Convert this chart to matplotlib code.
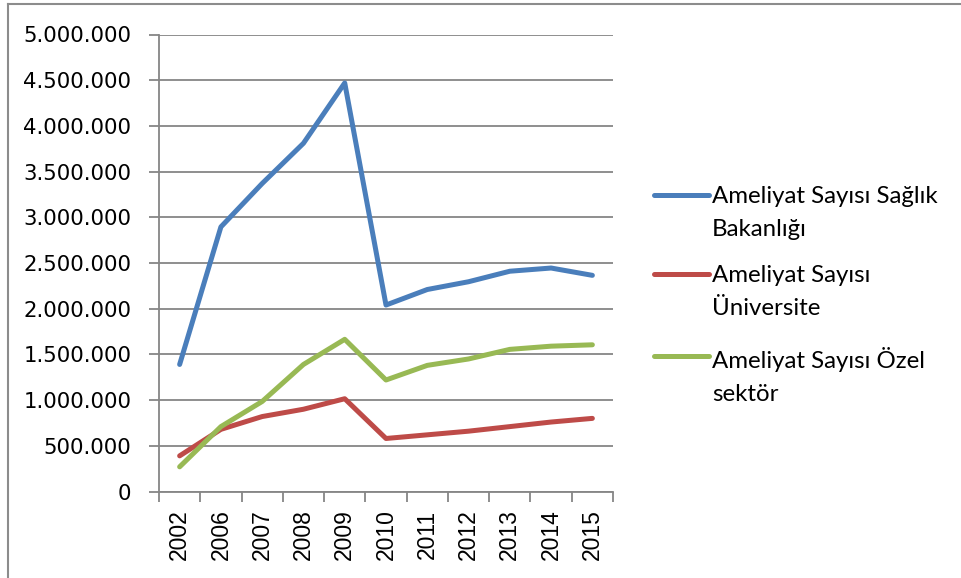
import matplotlib
matplotlib.use("Agg")
import matplotlib.pyplot as plt
from matplotlib.lines import Line2D
from matplotlib.ticker import FuncFormatter, MultipleLocator
import numpy as np

# data
years = ["2002", "2006", "2007", "2008", "2009", "2010", "2011", "2012", "2013", "2014", "2015"]
saglik = [1390000, 2895000, 3370000, 3810000, 4470000, 2040000, 2210000, 2295000, 2410000, 2445000, 2365000]
universite = [390000, 680000, 820000, 900000, 1015000, 580000, 620000, 660000, 710000, 760000, 800000]
ozel = [270000, 710000, 985000, 1390000, 1665000, 1220000, 1380000, 1450000, 1555000, 1590000, 1605000]

series = [
    (saglik, "#4A7EBB", "Ameliyat Sayısı Sağlık\nBakanlığı"),
    (universite, "#BE4B48", "Ameliyat Sayısı\nÜniversite"),
    (ozel, "#98B954", "Ameliyat Sayısı Özel\nsektör"),
]

grid_col = "#868686"

fig = plt.figure(figsize=(9.61, 5.78), dpi=100)
W, H = 961, 578
ax = fig.add_axes([159 / W, 1 - 491.5 / H, 454 / W, 457 / H])

x = np.arange(len(years))
for vals, col, lab in series:
    ax.plot(x, vals, color=col, lw=3.6, solid_capstyle="round", solid_joinstyle="round", zorder=3)

ax.set_xlim(-0.5, len(years) - 0.5)
ax.set_ylim(0, 5000000)
ax.yaxis.set_major_locator(MultipleLocator(500000))
ax.yaxis.set_major_formatter(FuncFormatter(lambda v, p: f"{int(v):,}".replace(",", ".")))
ax.grid(axis="y", color=grid_col, lw=1.3, zorder=1)

# category boundaries get tick marks, labels sit in between
ax.set_xticks(np.arange(-0.5, len(years), 1.0))
ax.set_xticklabels([])
ax.set_xticks(x, minor=True)
ax.set_xticklabels(years, minor=True, rotation=90, fontsize=16.5, family="Liberation Sans")
ax.tick_params(axis="x", which="major", length=7, width=1.3, color=grid_col, direction="out")
ax.tick_params(axis="x", which="minor", length=0, pad=13)
ax.tick_params(axis="y", length=7, width=1.3, color=grid_col, labelsize=15.3, pad=13)

for s in ["top", "right"]:
    ax.spines[s].set_visible(False)
for s in ["left", "bottom"]:
    ax.spines[s].set_color(grid_col)
    ax.spines[s].set_linewidth(1.3)

# legend drawn by hand: handle lines up with the first text line
leg_x0, leg_x1, txt_x = 654 / W, 709 / W, 712 / W
tops = [195, 274, 356]
for (vals, col, lab), ty in zip(series, tops):
    yy = 1 - ty / H
    fig.add_artist(Line2D([leg_x0, leg_x1], [yy, yy], color=col, lw=3.6, solid_capstyle="round",
                          transform=fig.transFigure))
    fig.text(txt_x, yy + 9 / H, lab, fontsize=17.3, family="Lato", va="top", ha="left",
             linespacing=1.72, color="black")

# outer chart border (only top and left are visible in the crop)
fig.add_artist(Line2D([8 / W, 1.0], [1 - 4 / H, 1 - 4 / H], color="#8c8c8c", lw=1.5, transform=fig.transFigure))
fig.add_artist(Line2D([8 / W, 8 / W], [0, 1 - 4 / H], color="#8c8c8c", lw=1.5, transform=fig.transFigure))

fig.savefig("out.png", dpi=100)
